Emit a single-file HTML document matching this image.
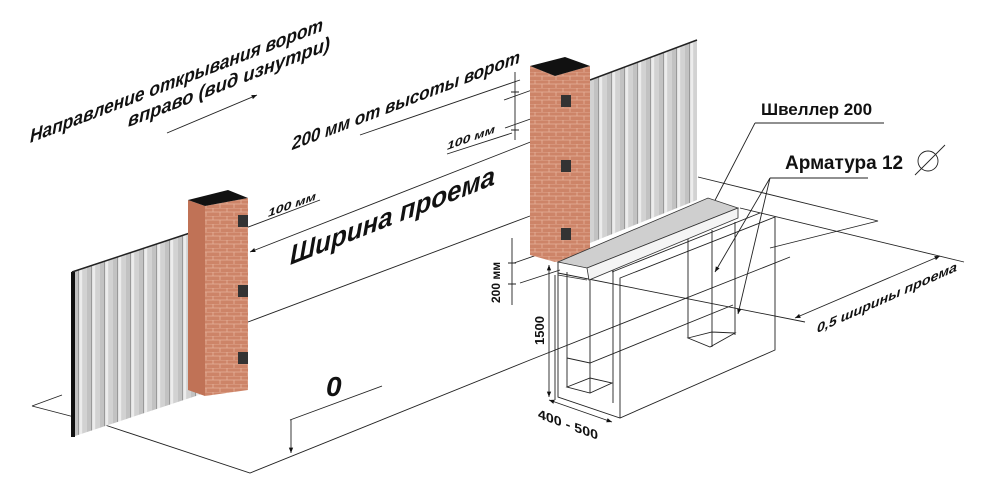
<!DOCTYPE html>
<html><head><meta charset="utf-8"><style>
html,body{margin:0;padding:0;background:#fff;width:1004px;height:489px;overflow:hidden}
text{font-family:"Liberation Sans",sans-serif;font-weight:bold;fill:#111}
</style></head><body>
<svg width="1004" height="489" viewBox="0 0 1004 489" xmlns="http://www.w3.org/2000/svg">
<defs>
<marker id="a" viewBox="0 0 10 10" refX="10" refY="5" markerWidth="6" markerHeight="6" orient="auto-start-reverse"><path d="M0,1L10,5L0,9z" fill="#111"/></marker>
<pattern id="rib" width="13" height="10" patternUnits="userSpaceOnUse">
<rect width="13" height="10" fill="#d2d2d2"/><rect x="0" width="1.2" height="10" fill="#999"/><rect x="1.2" width="3" height="10" fill="#ececec"/><rect x="9" width="4" height="10" fill="#c2c2c2"/>
</pattern>
<pattern id="brick" width="14" height="8" patternUnits="userSpaceOnUse">
<rect width="14" height="8" fill="#cd8468"/><path d="M0,0H14M0,4H14M3,0V4M10,4V8" stroke="#e6b29a" stroke-width="0.8"/>
</pattern>
</defs>
<g fill="none" stroke="#222" stroke-width="0.9">
<path d="M32,406L62,395M32,406L105,425L250,473L530,360L790,257"/>
<path d="M248,322L530,216"/>
<path d="M235,232L320,200"/>
<path d="M250,252L556,132" marker-start="url(#a)" marker-end="url(#a)"/>
<path d="M290,420L382,386"/>
<path d="M291,420L291,453" marker-end="url(#a)"/>
<path d="M167,133L257,95" marker-end="url(#a)"/>
<path d="M360,135L520,80"/>
<path d="M447,154L512,133"/>
<path d="M504,100L560,80M505,128L556,110M515,72V140M511,92H519M511,130H519"/>
<path d="M540,105L572,102"/>
<path d="M512,238V305M508,263H516M508,284H516M514,263L560,247M520,283L560,270"/>
<path d="M549,265V397" marker-start="url(#a)" marker-end="url(#a)"/>
<path d="M549,400L612,422" marker-start="url(#a)" marker-end="url(#a)"/>
<!-- foundation -->
<path d="M558,262V397L620,418L775,350V217L620,278V418M555,275V400"/>
<path d="M612,272L760,213"/>
<path d="M567,272V387M590,278V393M613,270V403M567,387L590,378L612,383L590,393Z"/>
<path d="M567,358L590,363L733,305"/>
<path d="M688,238V338M712,230V347M735,222V335M688,338L712,332L735,333L710,347Z"/>
<!-- right dims -->
<path d="M698,177L878,221L770,248"/>
<path d="M740,208L964,262"/>
<path d="M558,273L805,322"/>
<path d="M795,318L940,256" marker-start="url(#a)" marker-end="url(#a)"/>
<path d="M755,123H884M755,123L710,210"/>
<path d="M770,178H868"/>
<path d="M770,178L715,272" marker-end="url(#a)"/>
<path d="M770,178L738,314" marker-end="url(#a)"/>
<circle cx="928" cy="161" r="10"/>
<path d="M915,175L945,145"/>
</g>
<polygon points="72,272 205,228 205,393 72,437" fill="url(#rib)"/>
<path d="M73,272V437" stroke="#111" stroke-width="4"/>
<path d="M72,272L205,228" stroke="#222" stroke-width="1.5"/>
<polygon points="188,200 205,206 205,396 188,390" fill="#c07256"/>
<polygon points="205,206 248,198 248,390 205,396" fill="url(#brick)"/>
<polygon points="188,200 228,190 248,198 205,206" fill="#111"/>
<rect x="238" y="215" width="10" height="12" fill="#333"/>
<rect x="238" y="285" width="10" height="12" fill="#333"/>
<rect x="238" y="352" width="10" height="12" fill="#333"/>
<polygon points="590,80 697,40 697,200 590,243" fill="url(#rib)"/>
<path d="M590,80L697,40" stroke="#222" stroke-width="1.5"/>
<polygon points="530,66 555,76 555,262 530,255" fill="url(#brick)"/>
<polygon points="555,76 590,66 590,256 555,262" fill="url(#brick)"/>
<polygon points="530,66 565,57 590,66 555,76" fill="#111"/>
<rect x="561" y="95" width="10" height="12" fill="#333"/>
<rect x="561" y="160" width="10" height="12" fill="#333"/>
<rect x="561" y="228" width="10" height="12" fill="#333"/>
<polygon points="558,262 708,198 738,208 587,268" fill="#cfcfcf" stroke="#333" stroke-width="0.8"/>
<polygon points="587,268 738,208 738,218 589,280" fill="#f4f4f4" stroke="#333" stroke-width="0.8"/>
<path d="M558,262V275L587,280" fill="none" stroke="#333" stroke-width="0.8"/>
<text transform="translate(30,143) skewY(-21)" font-size="19" font-style="italic" textLength="293" lengthAdjust="spacingAndGlyphs">Направление открывания ворот</text>
<text transform="translate(128,127) skewY(-21)" font-size="19" font-style="italic" textLength="202" lengthAdjust="spacingAndGlyphs">вправо (вид изнутри)</text>
<text transform="translate(292,150) skewY(-21)" font-size="18" font-style="italic" textLength="228" lengthAdjust="spacingAndGlyphs">200 мм от высоты ворот</text>
<text transform="translate(447,150) skewY(-20)" font-size="11" font-style="italic" textLength="48" lengthAdjust="spacingAndGlyphs">100 мм</text>
<text transform="translate(268,217) skewY(-20)" font-size="11" font-style="italic" textLength="48" lengthAdjust="spacingAndGlyphs">100 мм</text>
<text transform="translate(290,265) skewY(-21.5)" font-size="27" font-style="italic" textLength="205" lengthAdjust="spacingAndGlyphs">Ширина проема</text>
<text x="326" y="396" font-size="28" font-style="italic">0</text>
<text transform="translate(500,303) rotate(-90)" font-size="12">200 мм</text>
<text transform="translate(544,345) rotate(-90)" font-size="13">1500</text>
<text transform="translate(538,418) skewY(20)" font-size="13" textLength="60" lengthAdjust="spacingAndGlyphs">400 - 500</text>
<text x="761" y="115" font-size="17">Швеллер 200</text>
<text x="785" y="169" font-size="19">Арматура 12</text>
<text transform="translate(817,333) skewY(-24)" font-size="13" font-style="italic" textLength="140" lengthAdjust="spacingAndGlyphs">0,5 ширины проема</text>
</svg>
</body></html>
